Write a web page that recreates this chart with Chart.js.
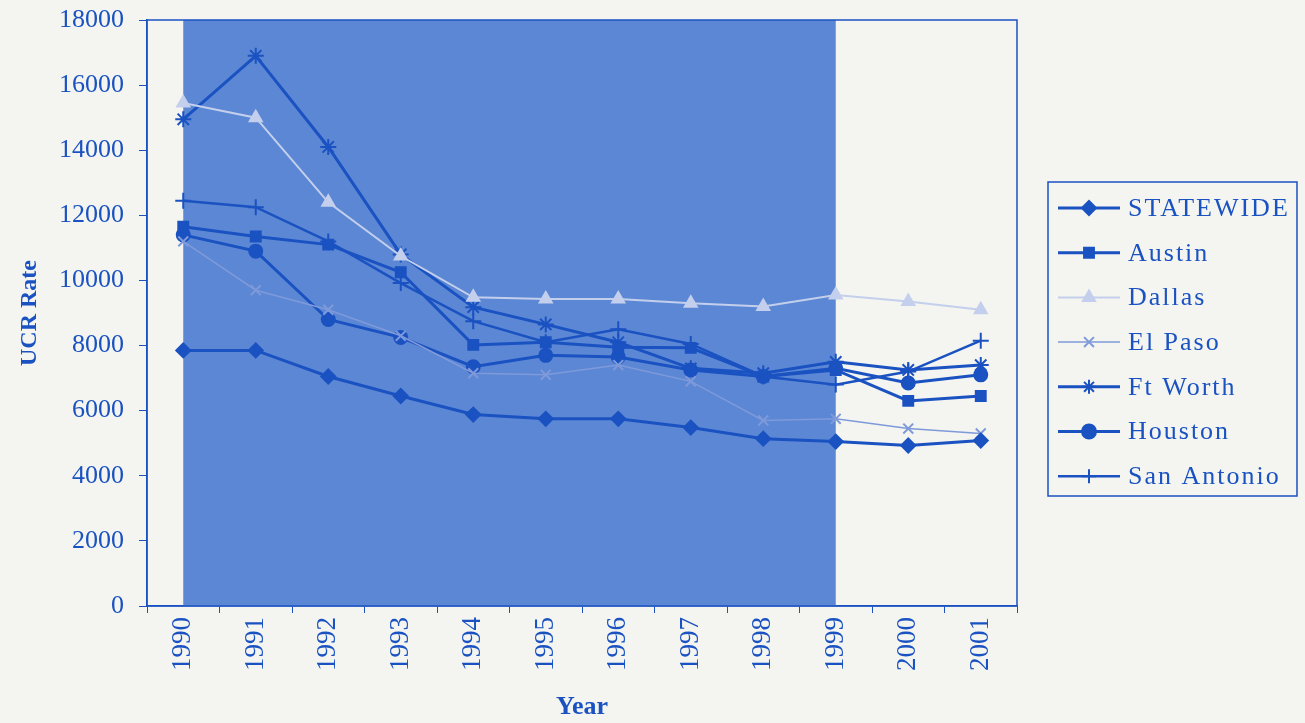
<!DOCTYPE html>
<html>
<head>
<meta charset="utf-8">
<script src="https://cdn.jsdelivr.net/npm/chart.js@4"></script>
<style>
  html, body { margin: 0; padding: 0; background: #f4f5f0; }
  #wrap { width: 1305px; height: 723px; }
</style>
</head>
<body>
<div id="wrap"><canvas id="ucrChart" width="1305" height="723"></canvas></div>
<script>
// data
const years = ['1990', '1991', '1992', '1993', '1994', '1995', '1996', '1997', '1998', '1999', '2000', '2001'];
const statewide = [7850, 7850, 7050, 6450, 5880, 5750, 5750, 5480, 5140, 5050, 4930, 5080];
const austin = [11650, 11350, 11100, 10250, 8020, 8100, 7950, 7930, 7050, 7250, 6300, 6450];
const dallas = [15450, 15000, 12400, 10750, 9480, 9430, 9430, 9300, 9200, 9550, 9350, 9100];
const elPaso = [11200, 9700, 9100, 8300, 7150, 7100, 7400, 6900, 5700, 5750, 5450, 5300];
const ftWorth = [14950, 16900, 14100, 10800, 9180, 8650, 8100, 7300, 7150, 7500, 7250, 7400];
const houston = [11400, 10900, 8800, 8250, 7350, 7700, 7650, 7250, 7050, 7300, 6850, 7100];
const sanAntonio = [12450, 12250, 11200, 9920, 8750, 8100, 8500, 8050, 7050, 6800, 7200, 8150];
const yTicks = [0, 2000, 4000, 6000, 8000, 10000, 12000, 14000, 16000, 18000];

// shaded span (first to last year index)
const shadeFrom = 0;
const shadeTo = 9;

const blue = '#1a52c2';
const shade = '#5c87d4';
const serif = '"Liberation Serif", "Times New Roman", serif';

function series(label, data, style, color, width, radius) {
  return {
    label: label,
    data: data,
    borderColor: color,
    backgroundColor: color,
    borderWidth: width,
    pointStyle: style,
    pointRadius: radius,
    pointBorderWidth: 2,
    pointBorderColor: color,
    pointBackgroundColor: color,
    tension: 0
  };
}

// shaded block behind the lines + plot frame
const shadePlugin = {
  id: 'shadePlugin',
  beforeDatasetsDraw(chart) {
    const { ctx, chartArea, scales } = chart;
    const x1 = scales.x.getPixelForValue(shadeFrom);
    const x2 = scales.x.getPixelForValue(shadeTo);
    ctx.save();
    ctx.fillStyle = shade;
    ctx.fillRect(x1, chartArea.top, x2 - x1, chartArea.bottom - chartArea.top);
    ctx.restore();
  },
  afterDraw(chart) {
    const { ctx, chartArea } = chart;
    ctx.save();
    ctx.strokeStyle = blue;
    ctx.lineWidth = 1.5;
    ctx.strokeRect(chartArea.left, chartArea.top, chartArea.right - chartArea.left, chartArea.bottom - chartArea.top);
    ctx.restore();
  }
};

// boxed legend on the right
const legendBox = {
  id: 'legendBox',
  afterDraw(chart) {
    const ctx = chart.ctx;
    const left = 1048, top = 182, w = 249, h = 314;
    ctx.save();
    ctx.strokeStyle = blue;
    ctx.lineWidth = 1.5;
    ctx.strokeRect(left, top, w, h);
    chart.data.datasets.forEach((ds, i) => {
      const y = 208 + i * 44.7;
      ctx.strokeStyle = ds.borderColor;
      ctx.lineWidth = ds.borderWidth;
      ctx.beginPath();
      ctx.moveTo(1058, y);
      ctx.lineTo(1120, y);
      ctx.stroke();
      ctx.fillStyle = ds.pointBackgroundColor;
      ctx.strokeStyle = ds.pointBorderColor;
      ctx.lineWidth = 2;
      Chart.helpers.drawPoint(ctx, { pointStyle: ds.pointStyle, radius: 7, borderWidth: 2 }, 1089, y);
      ctx.fillStyle = blue;
      ctx.font = '26px ' + serif;
      ctx.letterSpacing = '2px';
      ctx.textBaseline = 'middle';
      ctx.fillText(ds.label, 1128, y + 1);
    });
    ctx.restore();
  }
};

const ctx = document.getElementById('ucrChart');

new Chart(ctx, {
  type: 'line',
  data: {
    labels: years,
    datasets: [
      series('STATEWIDE', statewide, 'rectRot', blue, 3, 7),
      series('Austin', austin, 'rect', blue, 3, 7),
      series('Dallas', dallas, 'triangle', '#c3cfec', 2, 7),
      series('El Paso', elPaso, 'crossRot', '#7f9ada', 1.5, 7),
      series('Ft Worth', ftWorth, 'star', blue, 3, 8),
      series('Houston', houston, 'circle', blue, 3, 6.5),
      series('San Antonio', sanAntonio, 'cross', blue, 2.5, 8)
    ]
  },
  options: {
    responsive: false,
    animation: false,
    layout: {
      padding: { top: 20, right: 288, left: 0, bottom: 0 }
    },
    plugins: {
      legend: { display: false },
      tooltip: { enabled: false }
    },
    scales: {
      x: {
        offset: true,
        grid: {
          display: true,
          drawOnChartArea: false,
          drawTicks: true,
          tickLength: 7,
          color: blue,
          offset: true
        },
        border: { color: blue, width: 1.5 },
        ticks: {
          color: blue,
          font: { family: serif, size: 27 },
          maxRotation: 90,
          minRotation: 90,
          padding: 4
        },
        title: {
          display: true,
          text: 'Year',
          color: blue,
          font: { family: serif, size: 26, weight: 'bold' },
          padding: { top: 4, bottom: 0 }
        },
        afterFit(axis) { axis.height = 117; }
      },
      y: {
        min: 0,
        max: 18000,
        afterBuildTicks(axis) { axis.ticks = yTicks.map(v => ({ value: v })); },
        grid: {
          display: true,
          drawOnChartArea: false,
          drawTicks: true,
          tickLength: 8,
          color: blue
        },
        border: { color: blue, width: 1.5 },
        ticks: {
          color: blue,
          font: { family: serif, size: 26 },
          padding: 15,
          callback: (value) => String(value)
        },
        title: {
          display: true,
          text: 'UCR Rate',
          color: blue,
          font: { family: serif, size: 24, weight: 'bold' },
          padding: { top: 15, bottom: 0 }
        },
        afterFit(axis) {
          axis.width = 147;
          axis.paddingTop = 0;
          axis.paddingBottom = 0;
        }
      }
    }
  },
  plugins: [shadePlugin, legendBox]
});
</script>
</body>
</html>
